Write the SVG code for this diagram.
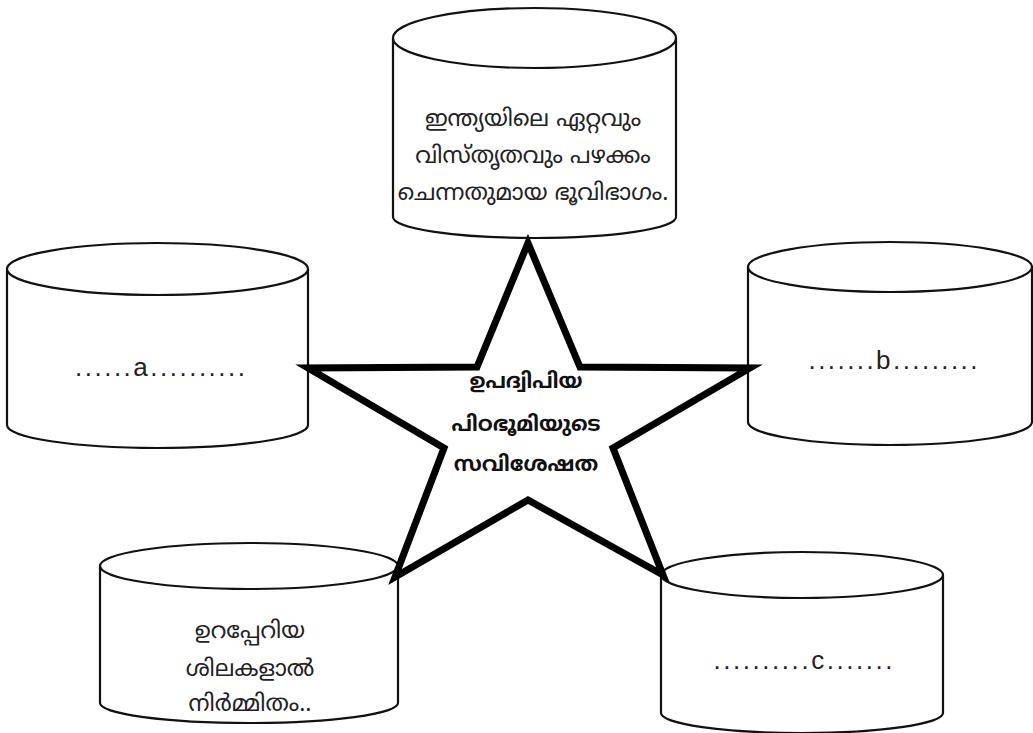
<svg xmlns="http://www.w3.org/2000/svg" width="1033" height="733" viewBox="0 0 1033 733">
<style>
.cyl{fill:#fff;stroke:#111;stroke-width:2.2}
.ml{font-family:"Noto Sans Malayalam","Noto Sans","DejaVu Sans",sans-serif;font-size:23px;fill:#222;text-anchor:middle}
.mlb{font-family:"Noto Sans Malayalam","Noto Sans","DejaVu Sans",sans-serif;font-size:21px;font-weight:bold;fill:#111;text-anchor:middle}
.dot{font-family:"Liberation Sans",Arial,sans-serif;font-size:26px;fill:#222;text-anchor:middle}
.star{fill:none;stroke:#000;stroke-width:7;stroke-linejoin:miter}
</style>
<rect width="1033" height="733" fill="#fff"/>
<g id="top">
<path class="cyl" d="M393,38 L393,217 A141.5,21 0 0 0 676,217 L676,38"/>
<ellipse class="cyl" cx="534.5" cy="38" rx="141.5" ry="30"/>
<text class="ml" x="533" y="126">ഇന്ത്യയിലെ ഏറ്റവും</text>
<text class="ml" x="533" y="163">വിസ്തൃതവും പഴക്കം</text>
<text class="ml" x="533" y="200">ചെന്നതുമായ ഭൂവിഭാഗം.</text>
</g>
<g id="a">
<path class="cyl" d="M7,269 L7,425 A150.5,23 0 0 0 308,425 L308,269"/>
<ellipse class="cyl" cx="157.5" cy="269" rx="150.5" ry="26"/>
<text class="dot" x="160" y="376" textLength="170" lengthAdjust="spacing">......a..........</text>
</g>
<g id="b">
<path class="cyl" d="M748,267 L748,422 A142,23 0 0 0 1032,422 L1032,267"/>
<ellipse class="cyl" cx="890" cy="267" rx="142" ry="25"/>
<text class="dot" x="893" y="369" textLength="169" lengthAdjust="spacing">.......b.........</text>
</g>
<g id="bl">
<path class="cyl" d="M100,566 L100,703 A149,20 0 0 0 398,703 L398,566"/>
<ellipse class="cyl" cx="249" cy="566" rx="149" ry="23"/>
<text class="ml" x="250" y="638">ഉറപ്പേറിയ</text>
<text class="ml" x="250" y="676">ശിലകളാൽ</text>
<text class="ml" x="250" y="711">നിർമ്മിതം..</text>
</g>
<g id="c">
<path class="cyl" d="M661,575 L661,713 A141,20 0 0 0 943,713 L943,575"/>
<ellipse class="cyl" cx="802" cy="575" rx="141" ry="23"/>
<text class="dot" x="803" y="669" textLength="179" lengthAdjust="spacing">..........c.......</text>
</g>
<g id="connectors">
<polygon class="star" points="528,243 580,367 750,368 613,448 663,575 528,500 395,577 444,448 308,368 477,367"/>
</g>
<g id="center">
<text class="mlb" x="526" y="388">ഉപദ്വിപിയ</text>
<text class="mlb" x="526" y="431">പിഠഭൂമിയുടെ</text>
<text class="mlb" x="526" y="471">സവിശേഷത</text>
</g>
</svg>
